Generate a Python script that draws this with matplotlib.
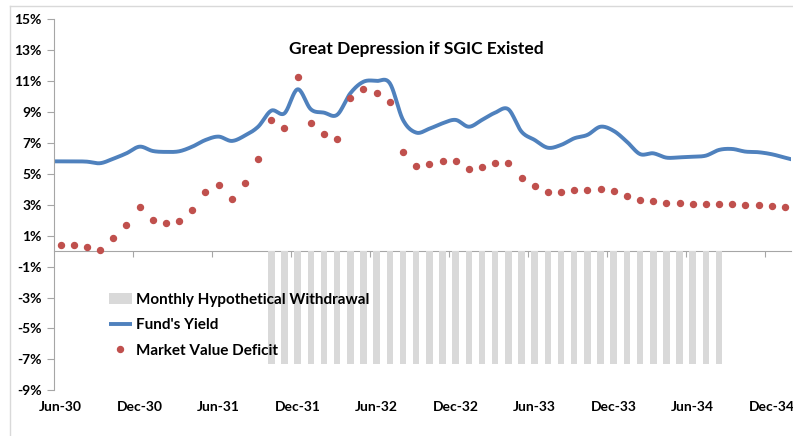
import matplotlib.pyplot as plt
from matplotlib.lines import Line2D
import numpy as np

plt.rcParams['font.family'] = ['Lato', 'DejaVu Sans']

# 月份：Jun-30 到 Jan-35
months = ['Jun-30', 'Jul-30', 'Aug-30', 'Sep-30', 'Oct-30', 'Nov-30',
          'Dec-30', 'Jan-31', 'Feb-31', 'Mar-31', 'Apr-31', 'May-31',
          'Jun-31', 'Jul-31', 'Aug-31', 'Sep-31', 'Oct-31', 'Nov-31',
          'Dec-31', 'Jan-32', 'Feb-32', 'Mar-32', 'Apr-32', 'May-32',
          'Jun-32', 'Jul-32', 'Aug-32', 'Sep-32', 'Oct-32', 'Nov-32',
          'Dec-32', 'Jan-33', 'Feb-33', 'Mar-33', 'Apr-33', 'May-33',
          'Jun-33', 'Jul-33', 'Aug-33', 'Sep-33', 'Oct-33', 'Nov-33',
          'Dec-33', 'Jan-34', 'Feb-34', 'Mar-34', 'Apr-34', 'May-34',
          'Jun-34', 'Jul-34', 'Aug-34', 'Sep-34', 'Oct-34', 'Nov-34',
          'Dec-34', 'Jan-35']

fund_yield = [5.81, 5.81, 5.79, 5.69, 5.98, 6.33, 6.76, 6.48, 6.42, 6.46,
              6.76, 7.19, 7.41, 7.13, 7.48, 8.05, 9.09, 8.92, 10.47, 9.18,
              8.96, 8.82, 10.21, 10.96, 11.01, 10.86, 8.49, 7.67, 7.92, 8.27,
              8.49, 8.05, 8.49, 8.96, 9.18, 7.73, 7.19, 6.69, 6.87, 7.30,
              7.52, 8.05, 7.78, 7.08, 6.28, 6.33, 6.05, 6.07, 6.11, 6.18,
              6.55, 6.61, 6.44, 6.40, 6.27, 6.05]

mv_deficit = [0.40, 0.40, 0.27, 0.06, 0.83, 1.67, 2.88, 2.00, 1.85, 1.97,
              2.69, 3.81, 4.30, 3.40, 4.39, 5.93, 8.49, 7.99, 11.29, 8.31,
              7.56, 7.28, 9.91, 10.49, 10.21, 9.67, 6.40, 5.49, 5.62, 5.83,
              5.85, 5.34, 5.47, 5.71, 5.69, 4.71, 4.22, 3.85, 3.83, 3.96,
              3.96, 4.02, 3.87, 3.57, 3.31, 3.25, 3.14, 3.10, 3.05, 3.05,
              3.07, 3.05, 2.99, 2.97, 2.92, 2.86]

withdrawal = [0, 0, 0, 0, 0, 0, 0, 0, 0, 0,
              0, 0, 0, 0, 0, 0, -7.3, -7.3, -7.3, -7.3,
              -7.3, -7.3, -7.3, -7.3, -7.3, -7.3, -7.3, -7.3, -7.3, -7.3,
              -7.3, -7.3, -7.3, -7.3, -7.3, -7.3, -7.3, -7.3, -7.3, -7.3,
              -7.3, -7.3, -7.3, -7.3, -7.3, -7.3, -7.3, -7.3, -7.3, -7.3,
              -7.3, 0, 0, 0, 0, 0]

tick_labels = ['Jun-30', 'Dec-30', 'Jun-31', 'Dec-31', 'Jun-32',
               'Dec-32', 'Jun-33', 'Dec-33', 'Jun-34', 'Dec-34']
y_ticks = [-9, -7, -5, -3, -1, 1, 3, 5, 7, 9, 11, 13, 15]


def smooth(y, n=20):
    # 类似 Excel 平滑线 (Catmull-Rom)，两端各延伸半个月
    y = np.asarray(y, dtype=float)
    p = np.concatenate([[2 * y[0] - y[1]], y, [2 * y[-1] - y[-2]]])
    xs, ys = [], []
    for k in range(1, len(p) - 2):
        t = np.linspace(0, 1, n, endpoint=False)
        p0, p1, p2, p3 = p[k - 1], p[k], p[k + 1], p[k + 2]
        v = 0.5 * (2 * p1 + (-p0 + p2) * t + (2 * p0 - 5 * p1 + 4 * p2 - p3) * t ** 2
                   + (-p0 + 3 * p1 - 3 * p2 + p3) * t ** 3)
        xs.append(k - 1 + t)
        ys.append(v)
    xs = np.concatenate(xs + [[len(y) - 1]])
    ys = np.concatenate(ys + [[y[-1]]])
    # 延伸到两端边缘
    xs = np.concatenate([[-0.5], xs, [len(y) - 0.5]])
    ys = np.concatenate([[y[0] - 0.5 * (y[1] - y[0])], ys, [y[-1] + 0.5 * (y[-1] - y[-2])]])
    return xs, ys


x = np.arange(len(months))

fig = plt.figure(figsize=(7.93, 4.36), dpi=100)
ax = fig.add_axes([0.0681, 0.1048, 0.930, 0.851])

bars = ax.bar(x, withdrawal, width=0.5, color='#D9D9D9', label='Monthly Hypothetical Withdrawal', zorder=1)
sx, sy = smooth(fund_yield)
line, = ax.plot(sx, sy, color='#4F81BD', linewidth=2.8, label="Fund's Yield", zorder=2,
                solid_capstyle='butt')
dots, = ax.plot(x, mv_deficit, linestyle='none', marker='o', markersize=4.3, color='#C0504D',
                label='Market Value Deficit', zorder=3)

ax.set_xlim(-0.5, len(months) - 0.5)
ax.set_ylim(-9, 15)

# y 轴
ax.set_yticks(y_ticks)
ax.set_yticklabels([f'{v}%' for v in y_ticks], fontweight='bold', fontsize=10)
ax.tick_params(axis='y', length=5, color='#A6A6A6', pad=4)
for s in ['top', 'right', 'bottom']:
    ax.spines[s].set_visible(False)
ax.spines['left'].set_color('#A6A6A6')

# x 轴标签放在底部
ax.set_xticks(x[::6])
ax.set_xticklabels(tick_labels, fontweight='bold', fontsize=10)
ax.tick_params(axis='x', length=0, pad=8)

# 零线上的刻度
ax2 = ax.secondary_xaxis(9 / 24)
ax2.set_xticks(np.arange(5.5, len(months) - 1, 6))
ax2.set_xticklabels([])
ax2.tick_params(length=4, color='#A6A6A6')
ax2.spines['bottom'].set_color('#A6A6A6')

ax.legend(handles=[bars, line, dots], loc='upper left', bbox_to_anchor=(0.066, 0.279),
          frameon=False, prop={'weight': 'bold', 'size': 11}, handlelength=1.5,
          handletextpad=0.25, labelspacing=0.75, borderaxespad=0)

fig.text(416 / 793, 1 - 49 / 436, 'Great Depression if SGIC Existed',
         ha='center', va='center', fontsize=12.5, fontweight='bold')

# 外框
fig.add_artist(Line2D([10 / 793, 1], [1 - 6 / 436, 1 - 6 / 436], color='#D9D9D9', lw=1))
fig.add_artist(Line2D([10 / 793, 10 / 793], [0, 1 - 6 / 436], color='#D9D9D9', lw=1))

fig.savefig('out.png', dpi=100)
